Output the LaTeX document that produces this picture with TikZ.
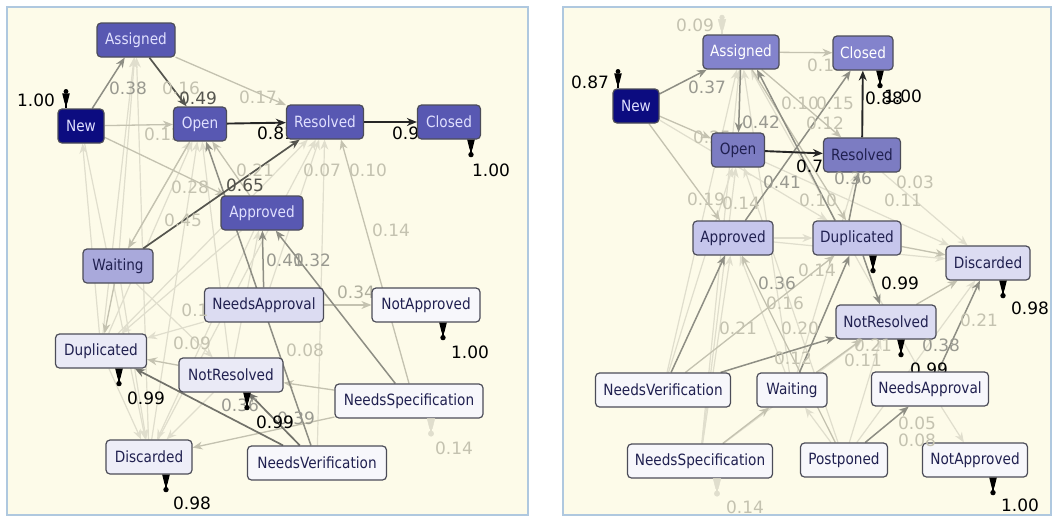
\documentclass[tikz,border=0pt]{standalone}
\usepackage{fontspec}
\setmainfont[FakeStretch=0.88]{DejaVu Sans}
\newfontfamily\numfont{DejaVu Sans}
\usetikzlibrary{arrows.meta}

\definecolor{panelbg}{HTML}{FDFBE9}
\definecolor{panelrim}{HTML}{AFC8DF}
\definecolor{boxrim}{HTML}{4C4C58}
\definecolor{navybox}{HTML}{0C0C80}
\definecolor{deepbox}{HTML}{5858B2}
\definecolor{softbox}{HTML}{8383CC}
\definecolor{midbox}{HTML}{A9A9DB}
\definecolor{lightbox}{HTML}{C6C6EC}
\definecolor{palebox}{HTML}{DCDCF2}
\definecolor{whitebox}{HTML}{F7F7FB}
\definecolor{inktext}{HTML}{202050}
\definecolor{edgedark}{HTML}{262626}
\definecolor{edgedim}{HTML}{55554E}
\definecolor{edgemid}{HTML}{8E8E84}
\definecolor{edgelight}{HTML}{C4C2B0}
\definecolor{edgefaint}{HTML}{E0DECD}

\pgfdeclarelayer{panel}
\pgfdeclarelayer{edges}
\pgfsetlayers{panel,edges,main}

\tikzset{
  act/.style={draw=boxrim, line width=1.2pt, rounded corners=4pt, minimum height=34pt,
    inner xsep=5pt, inner ysep=0pt, font=\fontsize{15.5}{16}\selectfont, text=inktext},
  navyact/.style={act, fill=navybox, text=white!88!blue},
  deepact/.style={act, fill=deepbox, text=white!88!blue},
  softact/.style={act, fill=softbox, text=white},
  blueact/.style={act, fill=softbox!95!black},
  midact/.style={act, fill=midbox},
  lightact/.style={act, fill=lightbox},
  paleact/.style={act, fill=palebox},
  whiteact/.style={act, fill=whitebox},
  flow/.style={-{Stealth[length=10pt,width=8pt]}, line width=1.3pt},
  strong/.style={flow, draw=edgedark, fill=edgedark, line width=1.9pt},
  darkish/.style={flow, draw=edgedim, fill=edgedim, line width=1.7pt},
  middle/.style={flow, draw=edgemid, fill=edgemid, line width=1.5pt},
  light/.style={flow, draw=edgelight, fill=edgelight},
  faint/.style={flow, draw=edgefaint, fill=edgefaint, line width=1.2pt},
  num/.style={font=\numfont\fontsize{17}{17}\selectfont, inner sep=0pt},
  bignum/.style={num, text=black},
  dimnum/.style={num, text=edgedim},
  midnum/.style={num, text=edgemid!90},
  ltnum/.style={num, text=edgelight!90!black},
  ftnum/.style={num, text=edgelight},
  endmark/.pic={
    \fill[pic actions] (-3.8,0) -- (3.8,0) -- (1.3,10) -- (-1.3,10) -- cycle;
    \draw[pic actions, line width=1.6pt] (0,9) -- (0,14);
    \fill[pic actions] (0,15) circle (2.7pt);},
  startmark/.pic={
    \fill[pic actions] (0,-17) circle (2.4pt);
    \fill[pic actions] (-3.8,-15) -- (3.8,-15) -- (1.3,-5) -- (-1.3,-5) -- cycle;
    \draw[pic actions, line width=1.6pt] (0,-6) -- (0,0);},
}

\begin{document}
\begin{tikzpicture}[x=1pt, y=-1pt]
\useasboundingbox (0,0) rectangle (1054,517);

\begin{pgfonlayer}{panel}
	\fill[white] (0,0) rectangle (1054,517);
	\fill[panelbg] (7,7) rectangle (528,515);
	\draw[panelrim, line width=1.6pt] (7,7) rectangle (528,515);
	\fill[panelbg] (563,7) rectangle (1051,515);
	\draw[panelrim, line width=1.6pt] (563,7) rectangle (1051,515);
\end{pgfonlayer}

	% left model
	\node[deepact, minimum width=78pt] (LAssigned) at (136,40) {Assigned};
	\node[navyact, minimum width=46pt] (LNew) at (81,126) {New};
	\node[deepact, minimum width=53pt] (LOpen) at (200,124) {Open};
	\node[deepact, minimum width=77pt] (LResolved) at (325,122) {Resolved};
	\node[deepact, minimum width=63pt] (LClosed) at (449,122) {Closed};
	\node[deepact, minimum width=82pt] (LApproved) at (262,213) {Approved};
	\node[midact, minimum width=70pt] (LWaiting) at (118,266) {Waiting};
	\node[paleact, minimum width=119pt] (LNeedsApproval) at (264,305) {NeedsApproval};
	\node[whiteact, minimum width=108pt] (LNotApproved) at (426,305) {NotApproved};
	\node[act, fill=palebox!50!whitebox, minimum width=91pt] (LDuplicated) at (101,351) {Duplicated};
	\node[act, fill=palebox!50!whitebox, minimum width=104pt] (LNotResolved) at (231,375) {NotResolved};
	\node[whiteact, minimum width=148pt] (LNeedsSpec) at (409,401) {NeedsSpecification};
	\node[act, fill=palebox!35!whitebox, minimum width=86pt] (LDiscarded) at (149,457) {Discarded};
	\node[whiteact, minimum width=139pt] (LNeedsVer) at (317,463) {NeedsVerification};

	% right model
	\node[softact, minimum width=76pt] (RAssigned) at (741,52) {Assigned};
	\node[softact, minimum width=60pt] (RClosed) at (863,53) {Closed};
	\node[navyact, minimum width=46pt] (RNew) at (636,106) {New};
	\node[blueact, minimum width=53pt] (ROpen) at (738,150) {Open};
	\node[blueact, minimum width=77pt] (RResolved) at (862,155) {Resolved};
	\node[lightact, minimum width=80pt] (RApproved) at (733,238) {Approved};
	\node[lightact, minimum width=88pt] (RDuplicated) at (857,238) {Duplicated};
	\node[paleact, minimum width=84pt] (RDiscarded) at (988,263) {Discarded};
	\node[paleact, minimum width=100pt] (RNotResolved) at (886,322) {NotResolved};
	\node[whiteact, minimum width=135pt] (RNeedsVer) at (663,390) {NeedsVerification};
	\node[whiteact, minimum width=70pt] (RWaiting) at (792,390) {Waiting};
	\node[whiteact, minimum width=117pt] (RNeedsApproval) at (930,389) {NeedsApproval};
	\node[whiteact, minimum width=145pt] (RNeedsSpec) at (700,461) {NeedsSpecification};
	\node[whiteact, minimum width=87pt] (RPostponed) at (844,460) {Postponed};
	\node[whiteact, minimum width=105pt] (RNotApproved) at (975,460) {NotApproved};

\begin{pgfonlayer}{edges}
	% faint arcs, left
	\foreach \a/\b in {LDuplicated/LAssigned, LDiscarded/LAssigned, LDuplicated/LOpen, LDiscarded/LOpen,
		LWaiting/LAssigned, LWaiting/LOpen, LDuplicated/LNew, LNew/LDiscarded, LDiscarded/LResolved,
		LDuplicated/LResolved, LNeedsApproval/LResolved, LNotResolved/LOpen, LNotResolved/LDiscarded,
		LDuplicated/LDiscarded, LNeedsApproval/LDuplicated, LApproved/LDuplicated, LApproved/LDiscarded,
		LWaiting/LDiscarded, LNeedsVer/LResolved, LNotResolved/LApproved, LWaiting/LNotResolved}
		\draw[faint] (\a) -- (\b);
	% light arcs, left
	\foreach \a/\b in {LNew/LOpen, LAssigned/LResolved, LApproved/LOpen, LNew/LApproved, LNeedsApproval/LNotApproved,
		LNeedsSpec/LDiscarded, LNeedsSpec/LNotResolved, LNotResolved/LDuplicated, LWaiting/LDuplicated, LOpen/LWaiting}
		\draw[light] (\a) -- (\b);
	\draw[light] (LNeedsSpec.north) -- ([xshift=16pt]LResolved.south);
	% middle arcs, left
	\foreach \a/\b in {LNew/LAssigned, LNeedsApproval/LApproved, LNeedsSpec/LApproved, LNeedsVer/LOpen}
		\draw[middle] (\a) -- (\b);
	\draw[darkish, draw=edgemid!80!black] (LNeedsVer) -- (LDuplicated);
	\draw[darkish, draw=edgemid!80!black] (LNeedsVer) -- (LNotResolved);
	% strong arcs, left
	\draw[darkish] (LAssigned) -- (LOpen);
	\draw[darkish] (LWaiting) -- (LResolved);
	\draw[strong] (LOpen) -- (LResolved);
	\draw[strong] (LResolved) -- (LClosed);

	% faint arcs, right
	\foreach \a/\b in {RNeedsSpec/RAssigned, RNeedsSpec/ROpen, RNeedsVer/RAssigned, RWaiting/RAssigned,
		RNeedsSpec/RNotResolved, RNeedsSpec/RApproved, RPostponed/RWaiting, RPostponed/RDiscarded,
		ROpen/RDiscarded, RResolved/RDiscarded, RApproved/RDuplicated, RWaiting/RApproved,
		RNeedsApproval/RNotApproved, RPostponed/RNotResolved, RNeedsVer/ROpen, RNew/RDuplicated,
		RApproved/RDiscarded, RWaiting/RResolved, RPostponed/ROpen, RNeedsApproval/RAssigned}
		\draw[faint] (\a) -- (\b);
	% light arcs, right
	\foreach \a/\b in {RNew/ROpen, RNew/RApproved, RAssigned/RClosed, RAssigned/RResolved, RAssigned/RDuplicated,
		RPostponed/RApproved, RNotResolved/RDiscarded, RWaiting/RNotResolved, RNeedsSpec/RWaiting,
		RNeedsVer/RDuplicated, RDuplicated/RDiscarded}
		\draw[light] (\a) -- (\b);
	% middle arcs, right
	\foreach \a/\b in {RNew/RAssigned, RAssigned/ROpen, RApproved/RClosed, RNeedsVer/RApproved,
		RWaiting/RDuplicated, RNeedsVer/RNotResolved, RNeedsApproval/RDiscarded, RPostponed/RNeedsApproval,
		RDuplicated/RNotResolved}
		\draw[middle] (\a) -- (\b);
	\draw[middle] ([xshift=-8pt]RDuplicated.north) -- (RResolved);
	\draw[middle] ([xshift=-22pt]RDuplicated.north) -- ([xshift=16pt]RAssigned.south);
	% strong arcs, right
	\draw[strong] (ROpen) -- (RResolved);
	\draw[strong] (RResolved) -- (RClosed);

	% labels hidden behind boxes
	\node[bignum] (lOR) at (276,133) {0.81};
	\node[bignum] (lRC) at (411,133) {0.92};
	\node[ftnum] (lNO) at (163,134) {0.12};
	\node[ltnum] (lNA) at (356,292) {0.34};
	\node[bignum] (rOR) at (815,166) {0.76};
	\node[bignum] (rNR) at (929,369) {0.99};
	\node[ftnum] (rAC) at (826,65) {0.12};
	\node[ftnum] (rNO) at (712,137) {0.25};
\end{pgfonlayer}

	% faint labels
	\foreach \x/\y/\t [count=\i] in {181/88/0.16, 258/97/0.17, 255/170/0.21, 322/170/0.07, 368/170/0.10,
		190/187/0.28, 391/230/0.14, 183/220/0.45, 195/310/0.1, 192/343/0.09, 305/350/0.08, 454/448/0.14,
		695/25/0.09, 800/103/0.10, 835/103/0.15, 825/123/0.12, 915/182/0.03, 903/200/0.11, 706/199/0.19,
		741/203/0.14, 818/200/0.10, 817/270/0.14, 785/303/0.16, 738/328/0.21, 800/328/0.20, 979/320/0.21,
		873/345/0.21, 793/358/0.12, 863/360/0.11, 917/423/0.05, 917/440/0.08, 745/507/0.14}
		\node[ftnum] (f\i) at (\x,\y) {\t};
	% gray labels
	\foreach \x/\y/\t [count=\i] in {128/88/0.38, 285/260/0.41, 312/260/0.32, 240/405/0.36, 296/418/0.39,
		707/87/0.37, 761/122/0.42, 782/182/0.41, 853/178/0.36, 777/283/0.36, 941/345/0.38}
		\node[midnum] (g\i) at (\x,\y) {\t};
	\node[dimnum] (lAO) at (198,98) {0.49};
	\node[dimnum] (lWR) at (245,185) {0.65};

	% start and end marks
	\pic at ([xshift=-15pt]LNew.north) {startmark};
	\node[bignum] (lStart) at (36,100) {1.00};
	\pic at ([xshift=22pt]LClosed.south) {endmark};
	\node[bignum] (lEndC) at (491,170) {1.00};
	\pic at ([xshift=18pt]LDuplicated.south) {endmark};
	\node[bignum] (lEndD) at (146,398) {0.99};
	\pic at ([xshift=16pt]LNotResolved.south) {endmark};
	\node[bignum] (lEndNR) at (275,422) {0.99};
	\pic at ([xshift=17pt]LDiscarded.south) {endmark};
	\node[bignum] (lEndDi) at (192,503) {0.98};
	\pic at ([xshift=17pt]LNotApproved.south) {endmark};
	\node[bignum] (lEndNA) at (470,352) {1.00};
	\pic[fill=edgefaint, draw=edgefaint] at ([xshift=22pt]LNeedsSpec.south) {endmark};

	\pic at ([xshift=-18pt]RNew.north) {startmark};
	\node[bignum] (rStart) at (590,82) {0.87};
	\pic[fill=edgefaint, draw=edgefaint] at ([xshift=-19pt]RAssigned.north) {startmark};
	\pic at ([xshift=17pt]RClosed.south) {endmark};
	\node[bignum] (rClab) at (884,98) {0.88};
	\node[bignum] (rEndC) at (903,96) {1.00};
	\pic at ([xshift=16pt]RDuplicated.south) {endmark};
	\node[bignum] (rEndD) at (900,283) {0.99};
	\pic at ([xshift=15pt]RDiscarded.south) {endmark};
	\node[bignum] (rEndDi) at (1030,308) {0.98};
	\pic at ([xshift=15pt]RNotResolved.south) {endmark};
	\pic at ([xshift=18pt]RNotApproved.south) {endmark};
	\node[bignum] (rEndNA) at (1020,505) {1.00};
	\pic[fill=edgefaint, draw=edgefaint] at ([xshift=17pt]RNeedsSpec.south) {endmark};
\end{tikzpicture}
\end{document}
